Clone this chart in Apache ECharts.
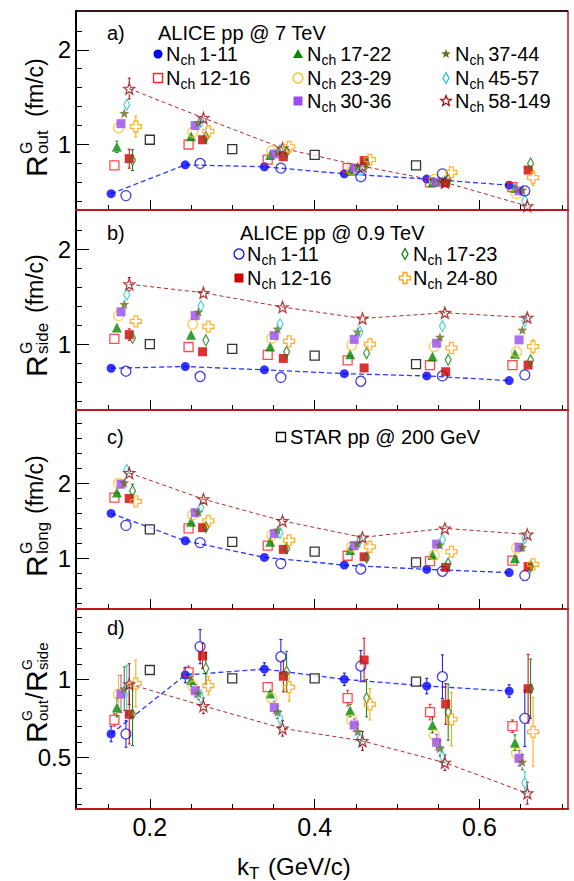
<!DOCTYPE html>
<html><head><meta charset="utf-8">
<script src="https://cdn.jsdelivr.net/npm/echarts@6/dist/echarts.min.js"></script>
<style>html,body{margin:0;padding:0;background:#fff}#c{width:574px;height:881px}</style>
</head><body><div id="c"></div>
<script>
const FONT = "'Liberation Sans', Arial, Helvetica, sans-serif";

// ---------- axes ----------
const X_MIN = 0.1104, X_MAX = 0.7074;
const xMajorTicks = [0.2, 0.4, 0.6];
const xMinorTicks = [0.15, 0.25, 0.3, 0.35, 0.45, 0.5, 0.55, 0.65, 0.7];
const yMin = [0.308, 0.308, 0.324, 0.169];
const yMax = [2.41, 2.41, 2.98, 1.451];
const yMajorTicks = [[1, 2], [1, 2], [1, 2], [0.5, 1]];
const yMinorTicks = [
  [0.4, 0.6, 0.8, 1.2, 1.4, 1.6, 1.8, 2.2],
  [0.4, 0.6, 0.8, 1.2, 1.4, 1.6, 1.8, 2.2],
  [0.4, 0.6, 0.8, 1.2, 1.4, 1.6, 1.8, 2.2, 2.4, 2.6, 2.8],
  [0.2, 0.3, 0.4, 0.6, 0.7, 0.8, 0.9, 1.1, 1.2, 1.3, 1.4]
];

// ---------- data ----------
const nchLabels = ['1-11', '12-16', '17-22', '23-29', '30-36', '37-44', '45-57', '58-149',
                   '1-11', '12-16', '17-23', '24-80'];
const kT = [
  [0.153, 0.243, 0.339, 0.436, 0.536, 0.636],
  [0.157, 0.247, 0.343, 0.440, 0.540, 0.640],
  [0.160, 0.250, 0.346, 0.443, 0.543, 0.643],
  [0.162, 0.252, 0.348, 0.445, 0.545, 0.645],
  [0.165, 0.255, 0.351, 0.448, 0.548, 0.648],
  [0.169, 0.259, 0.355, 0.452, 0.552, 0.652],
  [0.172, 0.262, 0.358, 0.455, 0.555, 0.655],
  [0.175, 0.265, 0.361, 0.458, 0.558, 0.658],
  [0.171, 0.261, 0.359, 0.456, 0.555, 0.655],
  [0.175, 0.264, 0.362, 0.460, 0.559, 0.659],
  [0.179, 0.268, 0.366, 0.463, 0.562, 0.662],
  [0.183, 0.271, 0.369, 0.467, 0.566, 0.665]
];
const Rout = [
  [0.48, 0.785, 0.765, 0.69, 0.635, 0.57],
  [0.78, 1.0, 0.84, 0.75, 0.60, 0.55],
  [0.975, 1.087, 0.89, 0.72, 0.60, 0.54],
  [1.175, 1.13, 0.93, 0.73, 0.63, 0.48],
  [1.22, 1.20, 0.90, 0.75, 0.60, 0.51],
  [1.33, 1.23, 0.92, 0.77, 0.61, 0.52],
  [1.42, 1.24, 0.94, 0.73, 0.60, 0.41],
  [1.59, 1.28, 0.96, 0.77, 0.60, 0.35],
  [0.46, 0.80, 0.75, 0.66, 0.69, 0.51],
  [0.85, 1.05, 0.87, 0.83, 0.595, 0.73],
  [0.835, 1.08, 0.92, 0.80, 0.625, 0.80],
  [1.19, 1.14, 0.975, 0.84, 0.705, 0.65]
];
const eRout = [
  [0.01, 0.01, 0.01, 0.01, 0.01, 0.01],
  [0.03, 0.02, 0.02, 0.02, 0.02, 0.02],
  [0.06, 0.03, 0.02, 0.02, 0.02, 0.03],
  [0.05, 0.03, 0.02, 0.02, 0.02, 0.03],
  [0.04, 0.03, 0.02, 0.02, 0.02, 0.02],
  [0.05, 0.03, 0.02, 0.02, 0.02, 0.03],
  [0.06, 0.04, 0.03, 0.02, 0.03, 0.05],
  [0.11, 0.05, 0.04, 0.03, 0.03, 0.04],
  [0.01, 0.01, 0.01, 0.02, 0.02, 0.03],
  [0.10, 0.04, 0.03, 0.03, 0.03, 0.05],
  [0.11, 0.05, 0.04, 0.04, 0.04, 0.06],
  [0.11, 0.06, 0.05, 0.04, 0.06, 0.08]
];
const Rside = [
  [0.747, 0.765, 0.73, 0.69, 0.666, 0.617],
  [1.056, 0.97, 0.887, 0.83, 0.78, 0.78],
  [1.175, 1.10, 0.975, 0.895, 0.87, 0.90],
  [1.30, 1.21, 1.06, 0.99, 0.975, 0.92],
  [1.34, 1.30, 1.09, 1.05, 1.01, 1.045],
  [1.42, 1.34, 1.16, 1.13, 1.075, 1.15],
  [1.52, 1.40, 1.21, 1.13, 1.19, 1.24],
  [1.63, 1.54, 1.39, 1.27, 1.33, 1.28],
  [0.716, 0.66, 0.65, 0.61, 0.666, 0.677],
  [1.10, 0.92, 0.85, 0.75, 0.71, 0.78],
  [1.066, 1.04, 0.92, 0.905, 0.835, 0.83],
  [1.24, 1.185, 1.03, 1.0, 0.96, 0.975]
];
const eRside = [
  [0.01, 0.01, 0.01, 0.01, 0.01, 0.01],
  [0.02, 0.02, 0.02, 0.02, 0.02, 0.02],
  [0.03, 0.02, 0.02, 0.02, 0.02, 0.02],
  [0.04, 0.03, 0.02, 0.02, 0.02, 0.03],
  [0.03, 0.03, 0.02, 0.02, 0.02, 0.02],
  [0.04, 0.03, 0.03, 0.03, 0.03, 0.04],
  [0.05, 0.04, 0.04, 0.04, 0.04, 0.05],
  [0.07, 0.05, 0.05, 0.05, 0.05, 0.06],
  [0.01, 0.01, 0.01, 0.01, 0.02, 0.03],
  [0.06, 0.03, 0.03, 0.03, 0.03, 0.04],
  [0.06, 0.04, 0.04, 0.05, 0.06, 0.05],
  [0.06, 0.04, 0.05, 0.04, 0.06, 0.07]
];
const Rlong = [
  [1.60, 1.235, 1.013, 0.91, 0.853, 0.81],
  [1.81, 1.40, 1.17, 1.035, 0.964, 0.97],
  [1.88, 1.49, 1.22, 1.11, 1.044, 1.0],
  [2.0, 1.58, 1.31, 1.155, 1.044, 1.14],
  [1.99, 1.61, 1.33, 1.17, 1.19, 1.147],
  [2.01, 1.62, 1.38, 1.20, 1.18, 1.15],
  [2.18, 1.68, 1.34, 1.24, 1.25, 1.27],
  [2.14, 1.79, 1.50, 1.28, 1.40, 1.32],
  [1.44, 1.21, 0.93, 0.857, 0.827, 0.77],
  [1.80, 1.41, 1.12, 1.02, 0.88, 0.89],
  [1.90, 1.42, 1.13, 1.01, 0.93, 0.89],
  [1.76, 1.50, 1.24, 1.155, 1.09, 0.92]
];
const eRlong = [
  [0.04, 0.02, 0.02, 0.02, 0.02, 0.02],
  [0.04, 0.02, 0.02, 0.02, 0.02, 0.02],
  [0.04, 0.03, 0.02, 0.02, 0.02, 0.02],
  [0.05, 0.03, 0.03, 0.03, 0.03, 0.03],
  [0.05, 0.03, 0.03, 0.03, 0.03, 0.03],
  [0.05, 0.04, 0.04, 0.04, 0.04, 0.04],
  [0.07, 0.05, 0.05, 0.05, 0.05, 0.05],
  [0.07, 0.06, 0.05, 0.05, 0.05, 0.06],
  [0.03, 0.02, 0.02, 0.02, 0.02, 0.02],
  [0.05, 0.04, 0.04, 0.04, 0.04, 0.05],
  [0.09, 0.04, 0.05, 0.05, 0.06, 0.06],
  [0.06, 0.05, 0.06, 0.06, 0.08, 0.07]
];
const Ratio = [
  [0.65, 1.028, 1.066, 1.0, 0.957, 0.925],
  [0.74, 1.045, 0.95, 0.88, 0.79, 0.70],
  [0.82, 0.996, 0.91, 0.80, 0.707, 0.594],
  [0.906, 0.957, 0.88, 0.74, 0.643, 0.526],
  [0.906, 0.927, 0.82, 0.707, 0.596, 0.494],
  [0.94, 0.91, 0.79, 0.665, 0.558, 0.47],
  [0.93, 0.88, 0.75, 0.62, 0.508, 0.337],
  [0.97, 0.83, 0.686, 0.605, 0.466, 0.27],
  [0.65, 1.21, 1.145, 1.085, 1.017, 0.75],
  [0.776, 1.15, 1.02, 1.124, 0.842, 0.94],
  [0.776, 1.07, 1.05, 0.88, 0.79, 0.94],
  [0.974, 0.96, 0.95, 0.84, 0.744, 0.664]
];
const eRatio = [
  [0.05, 0.05, 0.04, 0.04, 0.05, 0.04],
  [0.04, 0.04, 0.03, 0.05, 0.05, 0.04],
  [0.06, 0.04, 0.03, 0.04, 0.05, 0.05],
  [0.12, 0.04, 0.03, 0.04, 0.05, 0.05],
  [0.12, 0.04, 0.04, 0.04, 0.05, 0.05],
  [0.14, 0.04, 0.04, 0.05, 0.05, 0.05],
  [0.16, 0.05, 0.05, 0.05, 0.06, 0.07],
  [0.13, 0.05, 0.05, 0.06, 0.05, 0.07],
  [0.085, 0.11, 0.11, 0.10, 0.14, 0.18],
  [0.19, 0.08, 0.10, 0.14, 0.13, 0.22],
  [0.20, 0.10, 0.13, 0.12, 0.18, 0.19],
  [0.15, 0.06, 0.09, 0.10, 0.17, 0.22]
];
const starKT = [0.2, 0.3, 0.4, 0.523];
const starOut = [1.05, 0.95, 0.89, 0.78];
const starSide = [1.0, 0.95, 0.88, 0.79];
const starLong = [1.387, 1.22, 1.09, 0.946];
const starRatio = [1.06, 1.006, 1.006, 0.985];

// ---------- styles ----------
const styles = [
  {shape: 'circle', fill: '#0000ff', stroke: '#0000ff', size: 9},
  {shape: 'rect', fill: 'none', stroke: '#ff2020', size: 9},
  {shape: 'triangle', fill: '#008a00', stroke: '#008a00', size: 10},
  {shape: 'circle', fill: 'none', stroke: '#f8c020', size: 10},
  {shape: 'rect', fill: '#9a4cf0', stroke: '#9a4cf0', size: 9},
  {shape: 'star', fill: '#6b6b1e', stroke: '#6b6b1e', size: 10},
  {shape: 'diamond', fill: 'none', stroke: '#20c8d0', size: [6, 11]},
  {shape: 'star', fill: 'none', stroke: '#a01010', size: 11},
  {shape: 'circle', fill: 'none', stroke: '#1010e0', size: 10},
  {shape: 'rect', fill: '#d00000', stroke: '#d00000', size: 9},
  {shape: 'diamond', fill: 'none', stroke: '#108010', size: [6, 11]},
  {shape: 'cross', fill: 'none', stroke: '#ffa000', size: 11}
];
const starStyle = {shape: 'rect', fill: 'none', stroke: '#000000', size: 9};

const polys = {
  star: (function () { const p = []; for (let i = 0; i < 10; i++) { const a = -Math.PI / 2 + i * Math.PI / 5; const r = i % 2 ? 0.42 : 1; p.push([r * Math.cos(a), r * Math.sin(a)]); } return p; })(),
  diamond: [[0, -1], [1, 0], [0, 1], [-1, 0]],
  triangle: [[0, -1], [1, 0.8], [-1, 0.8]],
  cross: [[-0.35, -1], [0.35, -1], [0.35, -0.35], [1, -0.35], [1, 0.35], [0.35, 0.35], [0.35, 1], [-0.35, 1], [-0.35, 0.35], [-1, 0.35], [-1, -0.35], [-0.35, -0.35]]
};
function symbolOf(shape) {
  if (shape === 'circle' || shape === 'rect') return shape;
  return 'path://' + polys[shape].map((p, i) => (i ? 'L' : 'M') + (p[0] * 10).toFixed(2) + ' ' + (p[1] * 10).toFixed(2)).join(' ') + ' Z';
}

const gridTop = [11, 210, 410, 609];
const gridH = [199, 200, 199, 200];
const panelVals = [Rout, Rside, Rlong, Ratio];
const panelErr = [eRout, eRside, eRlong, eRatio];
const starVals = [starOut, starSide, starLong, starRatio];
const FRAME = '#c01818';

const grids = [], xAxes = [], yAxes = [], series = [];
for (let p = 0; p < 4; p++) {
  grids.push({left: 76, right: 6, top: gridTop[p], height: gridH[p], show: true, borderColor: FRAME, borderWidth: 1.5, backgroundColor: 'transparent'});
  xAxes.push({gridIndex: p, type: 'value', min: X_MIN, max: X_MAX, position: 'bottom',
    axisLine: {show: true, onZero: false, lineStyle: {color: FRAME, width: 2}},
    axisTick: {show: true, inside: true, length: 10, customValues: xMajorTicks, lineStyle: {color: '#000', width: 1}},
    axisLabel: {show: p === 3, customValues: xMajorTicks, fontSize: 25, fontFamily: FONT, color: '#000', margin: 5},
    splitLine: {show: false}});
  xAxes.push({gridIndex: p, type: 'value', min: X_MIN, max: X_MAX, position: 'bottom',
    axisLine: {show: false}, axisLabel: {show: false}, splitLine: {show: false},
    axisTick: {show: true, inside: true, length: 5, customValues: xMinorTicks, lineStyle: {color: '#000', width: 1}}});
  yAxes.push({gridIndex: p, type: 'value', min: yMin[p], max: yMax[p], position: 'left',
    axisLine: {show: true, onZero: false, lineStyle: {color: '#000', width: 2}},
    axisTick: {show: true, inside: true, length: 13, customValues: yMajorTicks[p], lineStyle: {color: '#000', width: 1}},
    axisLabel: {show: true, customValues: yMajorTicks[p], fontSize: 24, fontFamily: FONT, color: '#000', margin: 5},
    splitLine: {show: false}});
  yAxes.push({gridIndex: p, type: 'value', min: yMin[p], max: yMax[p], position: 'left',
    axisLine: {show: false}, axisLabel: {show: false}, splitLine: {show: false},
    axisTick: {show: true, inside: true, length: 6, customValues: yMinorTicks[p], lineStyle: {color: '#000', width: 1}}});

  // dashed guide lines
  series.push({type: 'line', xAxisIndex: 2 * p, yAxisIndex: 2 * p, data: kT[0].map((x, j) => [x, panelVals[p][0][j]]),
    symbol: 'none', lineStyle: {color: '#2a3cff', width: 1.3, type: [5, 3]}, z: 1, silent: true});
  series.push({type: 'line', xAxisIndex: 2 * p, yAxisIndex: 2 * p, data: kT[7].map((x, j) => [x, panelVals[p][7][j]]),
    symbol: 'none', lineStyle: {color: '#b02a2a', width: 1, type: [4, 3]}, z: 1, silent: true});

  // STAR
  series.push({type: 'scatter', xAxisIndex: 2 * p, yAxisIndex: 2 * p, data: starKT.map((x, j) => [x, starVals[p][j]]),
    symbol: 'rect', symbolSize: starStyle.size, itemStyle: {color: '#ffffff', borderColor: '#000', borderWidth: 1.3}, z: 3});

  for (let i = 0; i < 12; i++) {
    const st = styles[i];
    const hollow = st.fill === 'none';
    const half = (Array.isArray(st.size) ? st.size[1] : st.size) / 2;
    series.push({type: 'custom', xAxisIndex: 2 * p, yAxisIndex: 2 * p, z: 2, silent: true,
      data: kT[i].map((x, j) => [x, panelVals[p][i][j], panelErr[p][i][j]]),
      encode: {x: 0, y: 1},
      renderItem: function (params, api) {
        const x = api.value(0), y = api.value(1), e = api.value(2);
        const t = api.coord([x, y + e]), b = api.coord([x, y - e]), c = api.coord([x, y]);
        const ls = {stroke: st.stroke, lineWidth: 1};
        if (c[1] - t[1] <= half + 0.5) return {type: 'group', children: []};
        return {type: 'group', children: [
          {type: 'line', shape: {x1: t[0], y1: t[1], x2: t[0], y2: c[1] - half}, style: ls},
          {type: 'line', shape: {x1: b[0], y1: c[1] + half, x2: b[0], y2: b[1]}, style: ls},
          {type: 'line', shape: {x1: t[0] - 1.5, y1: t[1], x2: t[0] + 1.5, y2: t[1]}, style: ls},
          {type: 'line', shape: {x1: b[0] - 1.5, y1: b[1], x2: b[0] + 1.5, y2: b[1]}, style: ls}
        ]};
      }});
    series.push({type: 'scatter', xAxisIndex: 2 * p, yAxisIndex: 2 * p, z: 3,
      data: kT[i].map((x, j) => [x, panelVals[p][i][j]]),
      symbol: symbolOf(st.shape), symbolSize: st.size,
      itemStyle: {color: hollow ? 'rgba(0,0,0,0)' : st.fill, borderColor: st.stroke, borderWidth: hollow ? 1.3 : 0}});
  }
}

// ---------- text & legends ----------
function txt(x, y, s, fs, va) {
  return {type: 'text', x: x, y: y, style: {text: s, fontSize: fs, fontFamily: FONT, fill: '#000', align: 'left', verticalAlign: va || 'middle'}};
}
function legendSymbol(st, cx, cy) {
  const hollow = st.fill === 'none';
  const style = {fill: hollow ? 'none' : st.fill, stroke: st.stroke, lineWidth: hollow ? 1.3 : 0};
  const sz = Array.isArray(st.size) ? st.size : [st.size, st.size];
  if (st.shape === 'circle') return {type: 'circle', shape: {cx: cx, cy: cy, r: sz[0] / 2}, style: style};
  if (st.shape === 'rect') return {type: 'rect', shape: {x: cx - sz[0] / 2, y: cy - sz[1] / 2, width: sz[0], height: sz[1]}, style: style};
  return {type: 'polygon', shape: {points: polys[st.shape].map(q => [cx + q[0] * sz[0] / 2, cy + q[1] * sz[1] / 2])}, style: style};
}
function nchEntry(i, sx, tx, y) {
  const fN = 20, fS = 14;
  return [legendSymbol(styles[i], sx, y), txt(tx, y, 'N', fN), txt(tx + 0.722 * fN, y + 6, 'ch', fS),
          txt(tx + 0.722 * fN + 1.056 * fS + 4, y, nchLabels[i], fN)];
}
function yTitle(bx, by, pieces) {
  return {type: 'group', x: bx, y: by, rotation: Math.PI / 2,
    children: pieces.map(q => ({type: 'text', x: q[0], y: q[1] + 0.21 * q[3],
      style: {text: q[2], fontSize: q[3], fontFamily: FONT, fill: '#000', align: 'left', verticalAlign: 'bottom'}}))};
}

const graphics = [];
graphics.push({type: 'line', shape: {x1: 76, y1: 11, x2: 568, y2: 11}, style: {stroke: '#000', lineWidth: 1.5}});
graphics.push(txt(107, 33, 'a)', 20), txt(158, 33, 'ALICE pp @ 7 TeV', 20));
[[0, 158, 166, 54], [1, 158, 166, 78], [2, 298, 307, 54], [3, 298, 307, 78], [4, 298, 307, 101],
 [5, 446, 455, 54], [6, 446, 455, 78], [7, 446, 455, 101]].forEach(e => graphics.push(...nchEntry(e[0], e[1], e[2], e[3])));
graphics.push(txt(107, 233, 'b)', 20), txt(240, 233, 'ALICE pp @ 0.9 TeV', 20));
[[8, 239, 247, 254], [9, 239, 247, 278], [10, 405, 413, 254], [11, 405, 413, 278]].forEach(e => graphics.push(...nchEntry(e[0], e[1], e[2], e[3])));
graphics.push(txt(107, 437, 'c)', 20), legendSymbol(starStyle, 281, 437), txt(290, 437, 'STAR pp @ 200 GeV', 20));
graphics.push(txt(107, 628, 'd)', 20));

graphics.push(yTitle(45, 177, [[0, 0, 'R', 30], [23, -14, 'G', 16], [23, 2, 'out', 17], [60, -3, '(fm/c)', 23]]));
graphics.push(yTitle(45, 377, [[0, 0, 'R', 30], [23, -14, 'G', 16], [23, 2, 'side', 17], [64, -3, '(fm/c)', 23]]));
graphics.push(yTitle(45, 577, [[0, 0, 'R', 30], [23, -14, 'G', 16], [23, 2, 'long', 17], [63, -3, '(fm/c)', 23]]));
graphics.push(yTitle(45, 743, [[0, 0, 'R', 30], [22, -14, 'G', 14], [22, 2, 'out', 15], [44, -3, '/', 23], [51, 0, 'R', 30], [73, -14, 'G', 14], [73, 2, 'side', 15]]));
graphics.push(txt(237, 866, 'k', 24), txt(249, 873, 'T', 17), txt(268, 866, '(GeV/c)', 24));

const chart = echarts.init(document.getElementById('c'), null, {renderer: 'svg', width: 574, height: 881});
chart.setOption({
  animation: false,
  backgroundColor: '#ffffff',
  grid: grids, xAxis: xAxes, yAxis: yAxes, series: series, graphic: graphics
});
</script></body></html>
